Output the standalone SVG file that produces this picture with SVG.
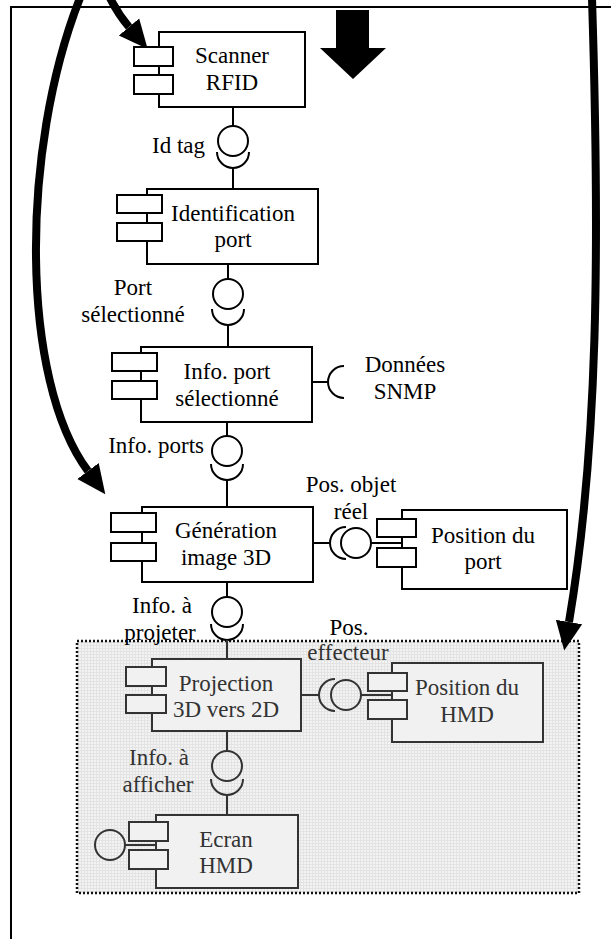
<svg xmlns="http://www.w3.org/2000/svg" width="611" height="939" viewBox="0 0 611 939">
<style>
.box{fill:#fff;stroke:#000;stroke-width:2}
.in .box{fill:#f1f1f1;stroke:#333}
.ln{fill:none;stroke:#000;stroke-width:2}
.in .ln{stroke:#333}
.lbl{font-family:"Liberation Serif","Times New Roman",serif;font-size:23px;text-anchor:middle;fill:#000}
.in .lbl,.lbl.gr{fill:#333}
.end{text-anchor:end}
.big{fill:none;stroke:#000;stroke-width:8}
</style>
<defs>
<pattern id="grid" width="3" height="3" patternUnits="userSpaceOnUse">
<rect width="3" height="3" fill="#f3f3f3"/>
<path d="M0,0.5H3M0.5,0V3" stroke="#e3e3e3" stroke-width="1"/>
</pattern>
<marker id="head" markerUnits="userSpaceOnUse" markerWidth="30" markerHeight="30" viewBox="0 -13 27 26" refX="0" refY="0" orient="auto">
<path d="M0,-12 L26,0 L0,12 z" fill="#000"/>
</marker>
</defs>
<rect width="611" height="939" fill="#fff"/>
<rect x="11" y="7" width="640" height="950" fill="none" stroke="#000" stroke-width="2"/>
<g id="group-hmd">
<rect x="77" y="641" width="502" height="252" fill="url(#grid)" stroke="#111" stroke-width="2.5" stroke-dasharray="2 2"/>
</g>
<g id="connectors">
<path class="big" d="M80,-2 C20,150 20,380 88,471" marker-end="url(#head)"/>
<path class="big" d="M110,-2 Q118,14 129,27" marker-end="url(#head)"/>
<path class="big" d="M592,-2 C600,250 598,450 569,622" marker-end="url(#head)"/>
<polygon points="336,10 369,10 369,48 386,48 353,79 320,48 336,48" fill="#000"/>
<!-- Id tag -->
<line class="ln" x1="233" y1="107" x2="233" y2="126"/>
<circle class="ln" cx="233" cy="141" r="15"/>
<path class="ln" d="M217,152 A16,16 0 0 0 249,152"/>
<line class="ln" x1="233" y1="168" x2="233" y2="189"/>
<!-- Port sélectionné -->
<line class="ln" x1="228" y1="264" x2="228" y2="279"/>
<circle class="ln" cx="228" cy="294" r="15"/>
<path class="ln" d="M212,309 A16,16 0 0 0 244,309"/>
<line class="ln" x1="228" y1="325" x2="228" y2="347"/>
<!-- Données SNMP -->
<line class="ln" x1="312" y1="382" x2="328" y2="382"/>
<path class="ln" d="M344,366 A16,16 0 0 0 344,398"/>
<!-- Info. ports -->
<line class="ln" x1="227" y1="422" x2="227" y2="436"/>
<circle class="ln" cx="227" cy="451" r="15"/>
<path class="ln" d="M211,464 A16,16 0 0 0 243,464"/>
<line class="ln" x1="227" y1="480" x2="227" y2="507"/>
<!-- Pos. objet réel -->
<line class="ln" x1="313" y1="543" x2="330" y2="543"/>
<path class="ln" d="M346,527 A16,16 0 0 0 346,559"/>
<circle class="ln" cx="356" cy="543" r="15"/>
<line class="ln" x1="371" y1="543" x2="402" y2="543"/>
<!-- Info. à projeter -->
<line class="ln" x1="227" y1="582" x2="227" y2="597"/>
<circle class="ln" cx="227" cy="612" r="15"/>
<path class="ln" d="M211,624 A16,16 0 0 0 243,624"/>
<g class="in">
<line class="ln" x1="227" y1="640" x2="227" y2="659"/>
<!-- Pos. effecteur -->
<line class="ln" x1="301" y1="695" x2="319" y2="695"/>
<path class="ln" d="M335,679 A16,16 0 0 0 335,711"/>
<circle class="ln" cx="346" cy="695" r="15"/>
<line class="ln" x1="361" y1="695" x2="392" y2="695"/>
<!-- Info. à afficher -->
<line class="ln" x1="227" y1="731" x2="227" y2="751"/>
<circle class="ln" cx="227" cy="766" r="15"/>
<path class="ln" d="M211,779 A16,16 0 0 0 243,779"/>
<line class="ln" x1="227" y1="795" x2="227" y2="815"/>
<!-- Ecran lollipop -->
<circle class="ln" cx="110" cy="845" r="15"/>
<line class="ln" x1="125" y1="845" x2="156" y2="845"/>
</g>
</g>
<g id="labels">
<text class="lbl end" x="205" y="153">Id tag</text>
<text class="lbl" x="133" y="295">Port</text>
<text class="lbl" x="133" y="322">sélectionné</text>
<text class="lbl" x="405" y="372">Données</text>
<text class="lbl" x="405" y="399">SNMP</text>
<text class="lbl end" x="204" y="453">Info. ports</text>
<text class="lbl" x="351" y="492">Pos. objet</text>
<text class="lbl" x="351" y="519">réel</text>
<text class="lbl" x="162" y="613">Info. à</text>
<text class="lbl" x="160" y="640">projeter</text>
<text class="lbl" x="349" y="635">Pos.</text>
<text class="lbl gr" x="348" y="660">effecteur</text>
<text class="lbl gr" x="159" y="765">Info. à</text>
<text class="lbl gr" x="158" y="792">afficher</text>
</g>
<g id="scanner">
<rect class="box" x="159" y="32" width="146" height="75"/>
<rect class="box" x="134" y="47" width="39" height="19"/>
<rect class="box" x="134" y="75" width="39" height="19"/>
<text class="lbl" x="232" y="63">Scanner</text>
<text class="lbl" x="232" y="90">RFID</text>
</g>
<g id="identification">
<rect class="box" x="147" y="189" width="171" height="75"/>
<rect class="box" x="117" y="195" width="45" height="18"/>
<rect class="box" x="117" y="223" width="45" height="18"/>
<text class="lbl" x="233" y="221">Identification</text>
<text class="lbl" x="233" y="247">port</text>
</g>
<g id="info-port">
<rect class="box" x="141" y="347" width="171" height="75"/>
<rect class="box" x="112" y="353" width="45" height="18"/>
<rect class="box" x="112" y="381" width="45" height="18"/>
<text class="lbl" x="227" y="379">Info. port</text>
<text class="lbl" x="227" y="406">sélectionné</text>
</g>
<g id="generation">
<rect class="box" x="142" y="507" width="171" height="75"/>
<rect class="box" x="111" y="513" width="45" height="19"/>
<rect class="box" x="111" y="543" width="45" height="18"/>
<text class="lbl" x="226" y="538">Génération</text>
<text class="lbl" x="226" y="565">image 3D</text>
</g>
<g id="position-port">
<rect class="box" x="402" y="510" width="165" height="79"/>
<rect class="box" x="377" y="519" width="39" height="18"/>
<rect class="box" x="377" y="548" width="39" height="19"/>
<text class="lbl" x="483" y="543">Position du</text>
<text class="lbl" x="483" y="569">port</text>
</g>
<g class="in">
<g id="projection">
<rect class="box" x="152" y="659" width="149" height="72"/>
<rect class="box" x="126" y="667" width="40" height="19"/>
<rect class="box" x="126" y="695" width="40" height="18"/>
<text class="lbl" x="226" y="691">Projection</text>
<text class="lbl" x="226" y="717">3D vers 2D</text>
</g>
<g id="position-hmd">
<rect class="box" x="392" y="663" width="151" height="79"/>
<rect class="box" x="368" y="673" width="39" height="18"/>
<rect class="box" x="368" y="700" width="39" height="19"/>
<text class="lbl" x="467" y="695">Position du</text>
<text class="lbl" x="467" y="722">HMD</text>
</g>
<g id="ecran">
<rect class="box" x="156" y="815" width="142" height="73"/>
<rect class="box" x="129" y="822" width="39" height="19"/>
<rect class="box" x="129" y="850" width="39" height="19"/>
<text class="lbl" x="226" y="847">Ecran</text>
<text class="lbl" x="226" y="873">HMD</text>
</g>
</g>
</svg>
